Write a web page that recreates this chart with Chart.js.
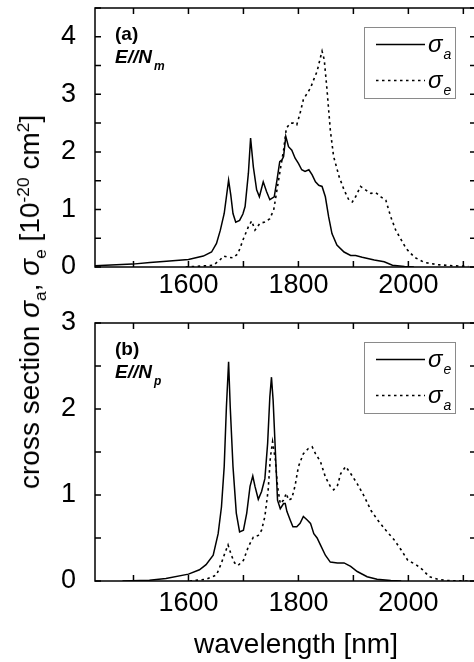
<!DOCTYPE html>
<html>
<head>
<meta charset="utf-8">
<script src="https://cdn.jsdelivr.net/npm/chart.js@4.4.0/dist/chart.umd.min.js"></script>
<style>
html, body { margin: 0; padding: 0; background: #fff; overflow: hidden; }
#wrap { position: relative; width: 474px; height: 662px; overflow: hidden; font-family: "Liberation Sans", Arial, sans-serif; }
canvas { position: absolute; left: 0; }
#ca { top: 0; }
#cb { top: 300px; }
#ytitle {
    position: absolute; left: 30px; top: 302px;
    transform: translate(-50%, -50%) rotate(-90deg);
    font-size: 28px; line-height: 28px; white-space: nowrap; color: #000;
}
#ytitle sub, #ytitle sup { font-size: 0.62em; line-height: 0; }
#xtitle {
    position: absolute; left: 296px; top: 630px;
    transform: translateX(-50%);
    font-size: 28px; line-height: 28px; white-space: nowrap; color: #000;
}
</style>
</head>
<body>
<div id="wrap">
  <canvas id="ca" width="476" height="330"></canvas>
  <canvas id="cb" width="476" height="362"></canvas>
  <div id="ytitle">cross section <i>σ</i><sub>a</sub>, <i>σ</i><sub>e</sub> [10<sup>-20</sup> cm<sup>2</sup>]</div>
  <div id="xtitle">wavelength [nm]</div>
</div>
<script>
// panel (a): E // N_m
var lamA_abs = [1430, 1498, 1530, 1560, 1600, 1627, 1642, 1651, 1658, 1665, 1669, 1673, 1677, 1681, 1686, 1693, 1699, 1703, 1709, 1713,
    1718, 1724, 1729, 1736, 1742, 1748, 1756, 1761, 1766, 1770, 1773, 1777, 1782, 1788, 1794, 1800, 1806, 1812, 1819, 1825,
    1831, 1837, 1843, 1849, 1855, 1861, 1870, 1883, 1895, 1904, 1916, 1938, 1956, 1971, 1993, 2010];
var sigA_abs = [0.02, 0.05, 0.08, 0.10, 0.13, 0.19, 0.26, 0.41, 0.64, 0.93, 1.22, 1.51, 1.25, 0.93, 0.78, 0.81, 0.92, 1.05, 1.63, 2.24,
    1.74, 1.34, 1.22, 1.48, 1.31, 1.17, 1.22, 1.51, 1.83, 1.86, 1.92, 2.27, 2.09, 2.03, 1.89, 1.80, 1.69, 1.66, 1.69, 1.60,
    1.48, 1.42, 1.40, 1.22, 0.87, 0.58, 0.38, 0.26, 0.20, 0.20, 0.17, 0.12, 0.09, 0.03, 0.01, 0];

var lamA_em = [1595, 1645, 1657, 1664, 1672, 1681, 1690, 1700, 1709, 1715, 1721, 1730, 1739, 1748, 1755, 1761, 1767, 1773, 1778, 1785,
    1791, 1797, 1803, 1809, 1816, 1822, 1828, 1834, 1839, 1843, 1847, 1852, 1858, 1864, 1874, 1883, 1892, 1898, 1904, 1913,
    1922, 1932, 1941, 1950, 1959, 1968, 1977, 1987, 1996, 2011, 2029, 2054, 2084, 2109];
var sigA_em = [0, 0.03, 0.12, 0.19, 0.17, 0.16, 0.23, 0.49, 0.70, 0.80, 0.64, 0.76, 0.78, 0.84, 0.99, 1.34, 1.69, 2.03, 2.41, 2.50,
    2.50, 2.47, 2.67, 2.91, 3.02, 3.11, 3.26, 3.40, 3.60, 3.75, 3.60, 3.08, 2.38, 1.92, 1.57, 1.34, 1.16, 1.13, 1.22, 1.40,
    1.34, 1.28, 1.29, 1.22, 1.16, 0.87, 0.64, 0.47, 0.32, 0.17, 0.08, 0.04, 0.02, 0.01];

// panel (b): E // N_p
var lamB_em = [1480, 1529, 1559, 1600, 1620, 1632, 1645, 1654, 1660, 1665, 1669, 1673, 1676, 1681, 1687, 1693, 1700, 1706, 1712, 1717,
    1721, 1727, 1733, 1739, 1744, 1748, 1751, 1754, 1758, 1762, 1767, 1773, 1776, 1779, 1785, 1790, 1797, 1803, 1809, 1816,
    1822, 1828, 1834, 1840, 1849, 1858, 1871, 1883, 1895, 1907, 1925, 1943, 1968, 1987];
var sigB_em = [0, 0.01, 0.03, 0.08, 0.13, 0.19, 0.30, 0.55, 0.86, 1.33, 2.02, 2.55, 2.02, 1.33, 0.79, 0.57, 0.59, 0.79, 1.10, 1.22,
    1.10, 0.95, 1.04, 1.19, 1.60, 2.14, 2.37, 2.10, 1.52, 0.94, 0.84, 0.90, 0.90, 0.81, 0.71, 0.63, 0.63, 0.67, 0.75, 0.71,
    0.67, 0.55, 0.50, 0.42, 0.30, 0.22, 0.21, 0.21, 0.17, 0.11, 0.05, 0.02, 0.005, 0];

var lamB_abs = [1602, 1632, 1651, 1660, 1666, 1672, 1678, 1684, 1690, 1700, 1709, 1718, 1727, 1733, 1739, 1745, 1749, 1753, 1758, 1762,
    1767, 1773, 1778, 1782, 1788, 1794, 1800, 1809, 1818, 1825, 1831, 1840, 1849, 1858, 1864, 1871, 1877, 1886, 1895, 1907,
    1920, 1932, 1944, 1959, 1974, 1987, 1999, 2014, 2026, 2038, 2054, 2072, 2109];
var sigB_abs = [0, 0.02, 0.07, 0.21, 0.32, 0.42, 0.30, 0.21, 0.18, 0.24, 0.40, 0.51, 0.53, 0.59, 0.75, 1.06, 1.44, 1.62, 1.41, 1.10,
    0.90, 0.94, 1.02, 0.94, 0.96, 1.11, 1.33, 1.48, 1.54, 1.56, 1.48, 1.39, 1.21, 1.10, 1.06, 1.11, 1.25, 1.33, 1.25, 1.13,
    0.98, 0.82, 0.71, 0.59, 0.48, 0.36, 0.24, 0.19, 0.13, 0.05, 0.02, 0.005, 0];

// tick positions; labels only every 200 nm / every 1 unit
var xTicks = [1500, 1600, 1700, 1800, 1900, 2000, 2100];
var xLabels = ['', '1600', '', '1800', '', '2000', ''];

var xMin = 1430, xMax = 2123;
var FONT = "'Liberation Sans', Arial, sans-serif";
Chart.defaults.font.family = FONT;
Chart.defaults.color = '#000';

function pts(xs, ys) {
    return xs.map(function(v, i) { return {x: v, y: ys[i]}; });
}

function series(label, xs, ys, dotted) {
    return {
        label: label,
        data: pts(xs, ys),
        borderColor: '#000',
        borderWidth: dotted ? 1.6 : 1.5,
        borderDash: dotted ? [2.5, 3.5] : [],
        pointRadius: 0,
        fill: false,
        tension: 0
    };
}

// frame, inward ticks, panel text and boxed legend
var framePlugin = {
    id: 'frame',
    afterDatasetsDraw: function(chart, args, opts) {
        var ctx = chart.ctx, a = chart.chartArea;
        var xs = chart.scales.x, ys = chart.scales.y;
        ctx.save();
        ctx.setLineDash([]);
        ctx.strokeStyle = '#000';
        ctx.lineWidth = 1.5;
        ctx.strokeRect(a.left, a.top, a.right - a.left, a.bottom - a.top);
        ctx.beginPath();
        xs.ticks.forEach(function(t) {
            var px = xs.getPixelForValue(t.value);
            ctx.moveTo(px, a.bottom); ctx.lineTo(px, a.bottom - 6);
            ctx.moveTo(px, a.top); ctx.lineTo(px, a.top + 6);
        });
        ys.ticks.forEach(function(t) {
            var py = ys.getPixelForValue(t.value);
            ctx.moveTo(a.left, py); ctx.lineTo(a.left + 6, py);
            ctx.moveTo(a.right, py); ctx.lineTo(a.right - 6, py);
        });
        ctx.stroke();

        // panel label and polarisation
        ctx.fillStyle = '#000';
        ctx.textBaseline = 'alphabetic';
        ctx.textAlign = 'left';
        ctx.font = 'bold 19px ' + FONT;
        ctx.fillText(opts.tag, a.left + 20, a.top + 32);
        ctx.font = 'italic bold 19px ' + FONT;
        ctx.fillText(opts.pol, a.left + 20, a.top + 55);
        var w = ctx.measureText(opts.pol).width;
        ctx.font = 'italic bold 12px ' + FONT;
        ctx.fillText(opts.polSub, a.left + 22 + w, a.top + 62);

        // legend box
        var bw = 91, bh = 71;
        var bx = a.right - 21 - bw, by = a.top + 19;
        ctx.strokeStyle = '#8a8a8a';
        ctx.lineWidth = 1;
        ctx.strokeRect(bx + 0.5, by + 0.5, bw, bh);
        chart.data.datasets.forEach(function(ds, i) {
            var ly = by + 17.5 + i * 36;
            ctx.strokeStyle = '#000';
            ctx.lineWidth = ds.borderWidth;
            ctx.setLineDash(ds.borderDash);
            ctx.beginPath();
            ctx.moveTo(bx + 12, ly);
            ctx.lineTo(bx + 61, ly);
            ctx.stroke();
            ctx.setLineDash([]);
            var parts = ds.label.split('_');
            ctx.font = 'italic 24px ' + FONT;
            ctx.fillText(parts[0], bx + 64, ly + 7);
            var sw = ctx.measureText(parts[0]).width;
            ctx.font = 'italic 14px ' + FONT;
            ctx.fillText(parts[1], bx + 65 + sw, ly + 14);
        });
        ctx.restore();
    }
};

function makeChart(id, datasets, yMax, panel, xHeight, topPad, labelPad) {
    return new Chart(document.getElementById(id), {
        type: 'line',
        data: { datasets: datasets },
        options: {
            responsive: false,
            animation: false,
            layout: { padding: { top: topPad, left: 0, right: 0, bottom: 0 } },
            plugins: {
                legend: { display: false },
                tooltip: { enabled: false },
                frame: panel
            },
            scales: {
                x: {
                    type: 'linear',
                    min: xMin,
                    max: xMax,
                    grid: { display: false },
                    border: { display: false },
                    afterBuildTicks: function(s) {
                        s.ticks = xTicks.map(function(v) { return {value: v}; });
                    },
                    ticks: {
                        autoSkip: false,
                        maxRotation: 0,
                        padding: labelPad,
                        font: { size: 27 },
                        callback: function(v) { return xLabels[xTicks.indexOf(v)] || ''; }
                    },
                    afterFit: function(s) {
                        s.height = xHeight;
                        s.paddingLeft = 0; s.paddingRight = 0;
                    }
                },
                y: {
                    type: 'linear',
                    min: 0,
                    max: yMax,
                    grid: { display: false },
                    border: { display: false },
                    ticks: {
                        stepSize: 0.5,
                        autoSkip: false,
                        padding: 11,
                        font: { size: 27 },
                        callback: function(v) { return Number.isInteger(v) ? v : ''; }
                    },
                    afterFit: function(s) {
                        s.width = 95;
                        s.paddingTop = 0; s.paddingBottom = 0;
                    }
                }
            }
        },
        plugins: [framePlugin]
    });
}

var chartA = makeChart('ca', [
    series('σ_a', lamA_abs, sigA_abs, false),
    series('σ_e', lamA_em, sigA_em, true)
], 4.5, { tag: '(a)', pol: 'E//N', polSub: 'm' }, 63, 8, -6);

var chartB = makeChart('cb', [
    series('σ_e', lamB_em, sigB_em, false),
    series('σ_a', lamB_abs, sigB_abs, true)
], 3, { tag: '(b)', pol: 'E//N', polSub: 'p' }, 81, 23, -2);
</script>
</body>
</html>
